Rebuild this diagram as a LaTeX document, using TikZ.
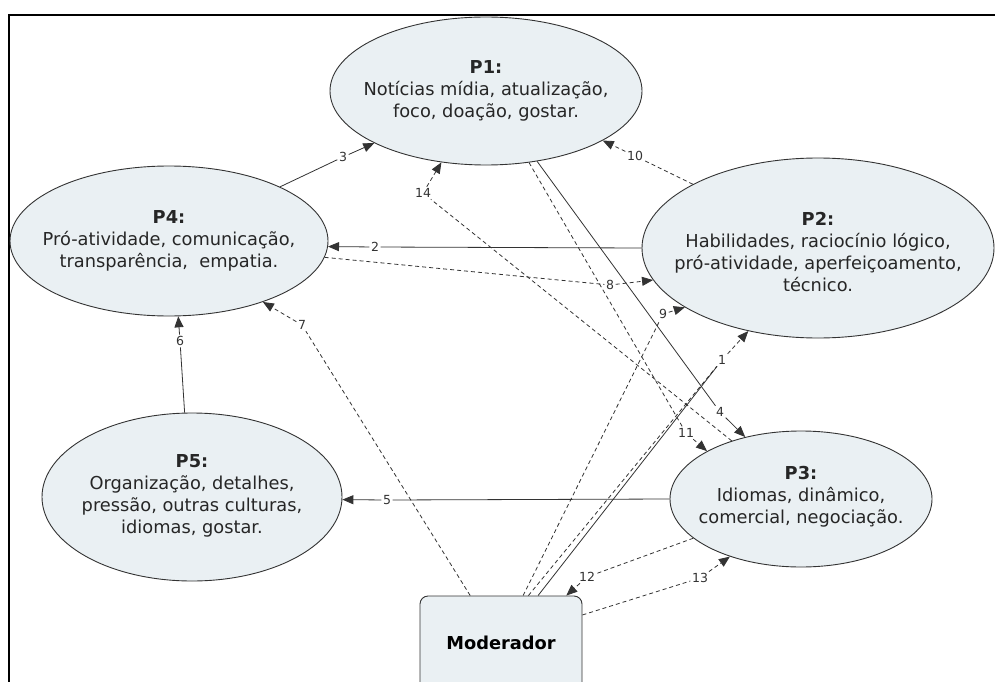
\documentclass[tikz,border=0pt]{standalone}
\usepackage{fontspec}
\setmainfont{DejaVu Sans}
\usetikzlibrary{shapes.geometric,arrows.meta}
\definecolor{fillc}{HTML}{EAF0F3}
\definecolor{linec}{HTML}{333333}
\begin{document}
\begin{tikzpicture}[x=1pt,y=-1pt,
  ell/.style={ellipse, draw=linec, line width=0.9pt, fill=fillc, inner sep=0pt},
  txt/.style={align=center, font=\fontsize{17.8}{22}\selectfont, text=black!85, inner sep=0pt},
  modbox/.style={rectangle, rounded corners=8pt, draw=linec, line width=0.9pt, fill=fillc, minimum width=162pt, minimum height=94pt, font=\fontsize{17.8}{22}\selectfont\bfseries},
  lbl/.style={font=\fontsize{12.5}{14}\selectfont, text=linec, inner sep=1.5pt},
  conn/.style={draw=linec, line width=0.8pt},
  dconn/.style={conn, dash pattern=on 4pt off 3pt},
  arr/.style={-{Triangle[length=11pt,width=9pt]}},
]
\useasboundingbox (0,0) rectangle (995,682);
\clip (0,0) rectangle (995,682);
\fill[white] (0,0) rectangle (995,682);
\draw[line width=2pt] (996,15) -- (9,15) -- (9,683);

% concepts
\node[ell, minimum width=312pt, minimum height=148pt] (p1) at (486,91) {};
\node[txt] (t1) at (486,91) {\textbf{P1:}\\Notícias mídia, atualização,\\foco, doação, gostar.};
\node[ell, minimum width=318pt, minimum height=150pt] (p4) at (169,241) {};
\node[txt] (t4) at (169,241) {\textbf{P4:}\\Pró-atividade, comunicação,\\transparência,~ empatia.};
\node[ell, minimum width=352pt, minimum height=180pt] (p2) at (818,248) {};
\node[txt] (t2) at (818,252) {\textbf{P2:}\\Habilidades, raciocínio lógico,\\pró-atividade, aperfeiçoamento,\\técnico.};
\node[ell, minimum width=262pt, minimum height=136pt] (p3) at (801,499) {};
\node[txt] (t3) at (801,497) {\textbf{P3:}\\Idiomas, dinâmico,\\comercial, negociação.};
\node[ell, minimum width=300pt, minimum height=168pt] (p5) at (192,497) {};
\node[txt] (t5) at (192,496) {\textbf{P5:}\\Organização, detalhes,\\pressão, outras culturas,\\idiomas, gostar.};
\node[modbox] (mod) at (501,643) {Moderador};

% labels
\node[lbl] (l1) at (722,360) {1};
\node[lbl] (l2) at (375,247) {2};
\node[lbl] (l3) at (343,157) {3};
\node[lbl] (l4) at (720,412) {4};
\node[lbl] (l5) at (387,500) {5};
\node[lbl] (l6) at (180,341) {6};
\node[lbl] (l7) at (302,325) {7};
\node[lbl] (l8) at (610,285) {8};
\node[lbl] (l9) at (663,314) {9};
\node[lbl] (l10) at (635,156) {10};
\node[lbl] (l11) at (686,433) {11};
\node[lbl] (l12) at (587,577) {12};
\node[lbl] (l13) at (700,578) {13};
\node[lbl] (l14) at (423,193) {14};

% connectors
\draw[conn] (mod.52) -- (l1);
\draw[dconn] (mod.60) -- (l1);
\draw[dconn,arr] (l1) -- (p2.230);
\draw[conn,arr] (p2.180) -- (l2) -- (p4.358);
\draw[conn,arr] (p4.26) -- (l3) -- (p1.205);
\draw[conn,arr] (p1.306) -- (l4) -- (p3.132);
\draw[conn,arr] (p3.180) -- (l5) -- (p5.359);
\draw[conn,arr] (p5.95) -- (l6) -- (p4.277);
\draw[dconn,arr] (mod.123) -- (l7) -- (p4.327);
\draw[dconn,arr] (p4.354) -- (l8) -- (p2.191);
\draw[dconn,arr] (mod.65) -- (l9) -- (p2.204);
\draw[dconn,arr] (p2.153) -- (l10) -- (p1.337);
\draw[dconn,arr] (p1.301) -- (l11) -- (p3.153);
\draw[dconn,arr] (p3.200) -- (l12) -- (mod.36);
\draw[dconn,arr] (mod.19) -- (l13) -- (p3.219);
\draw[dconn,arr] (p3.140) -- (l14) -- (p1.238);
\end{tikzpicture}
\end{document}
